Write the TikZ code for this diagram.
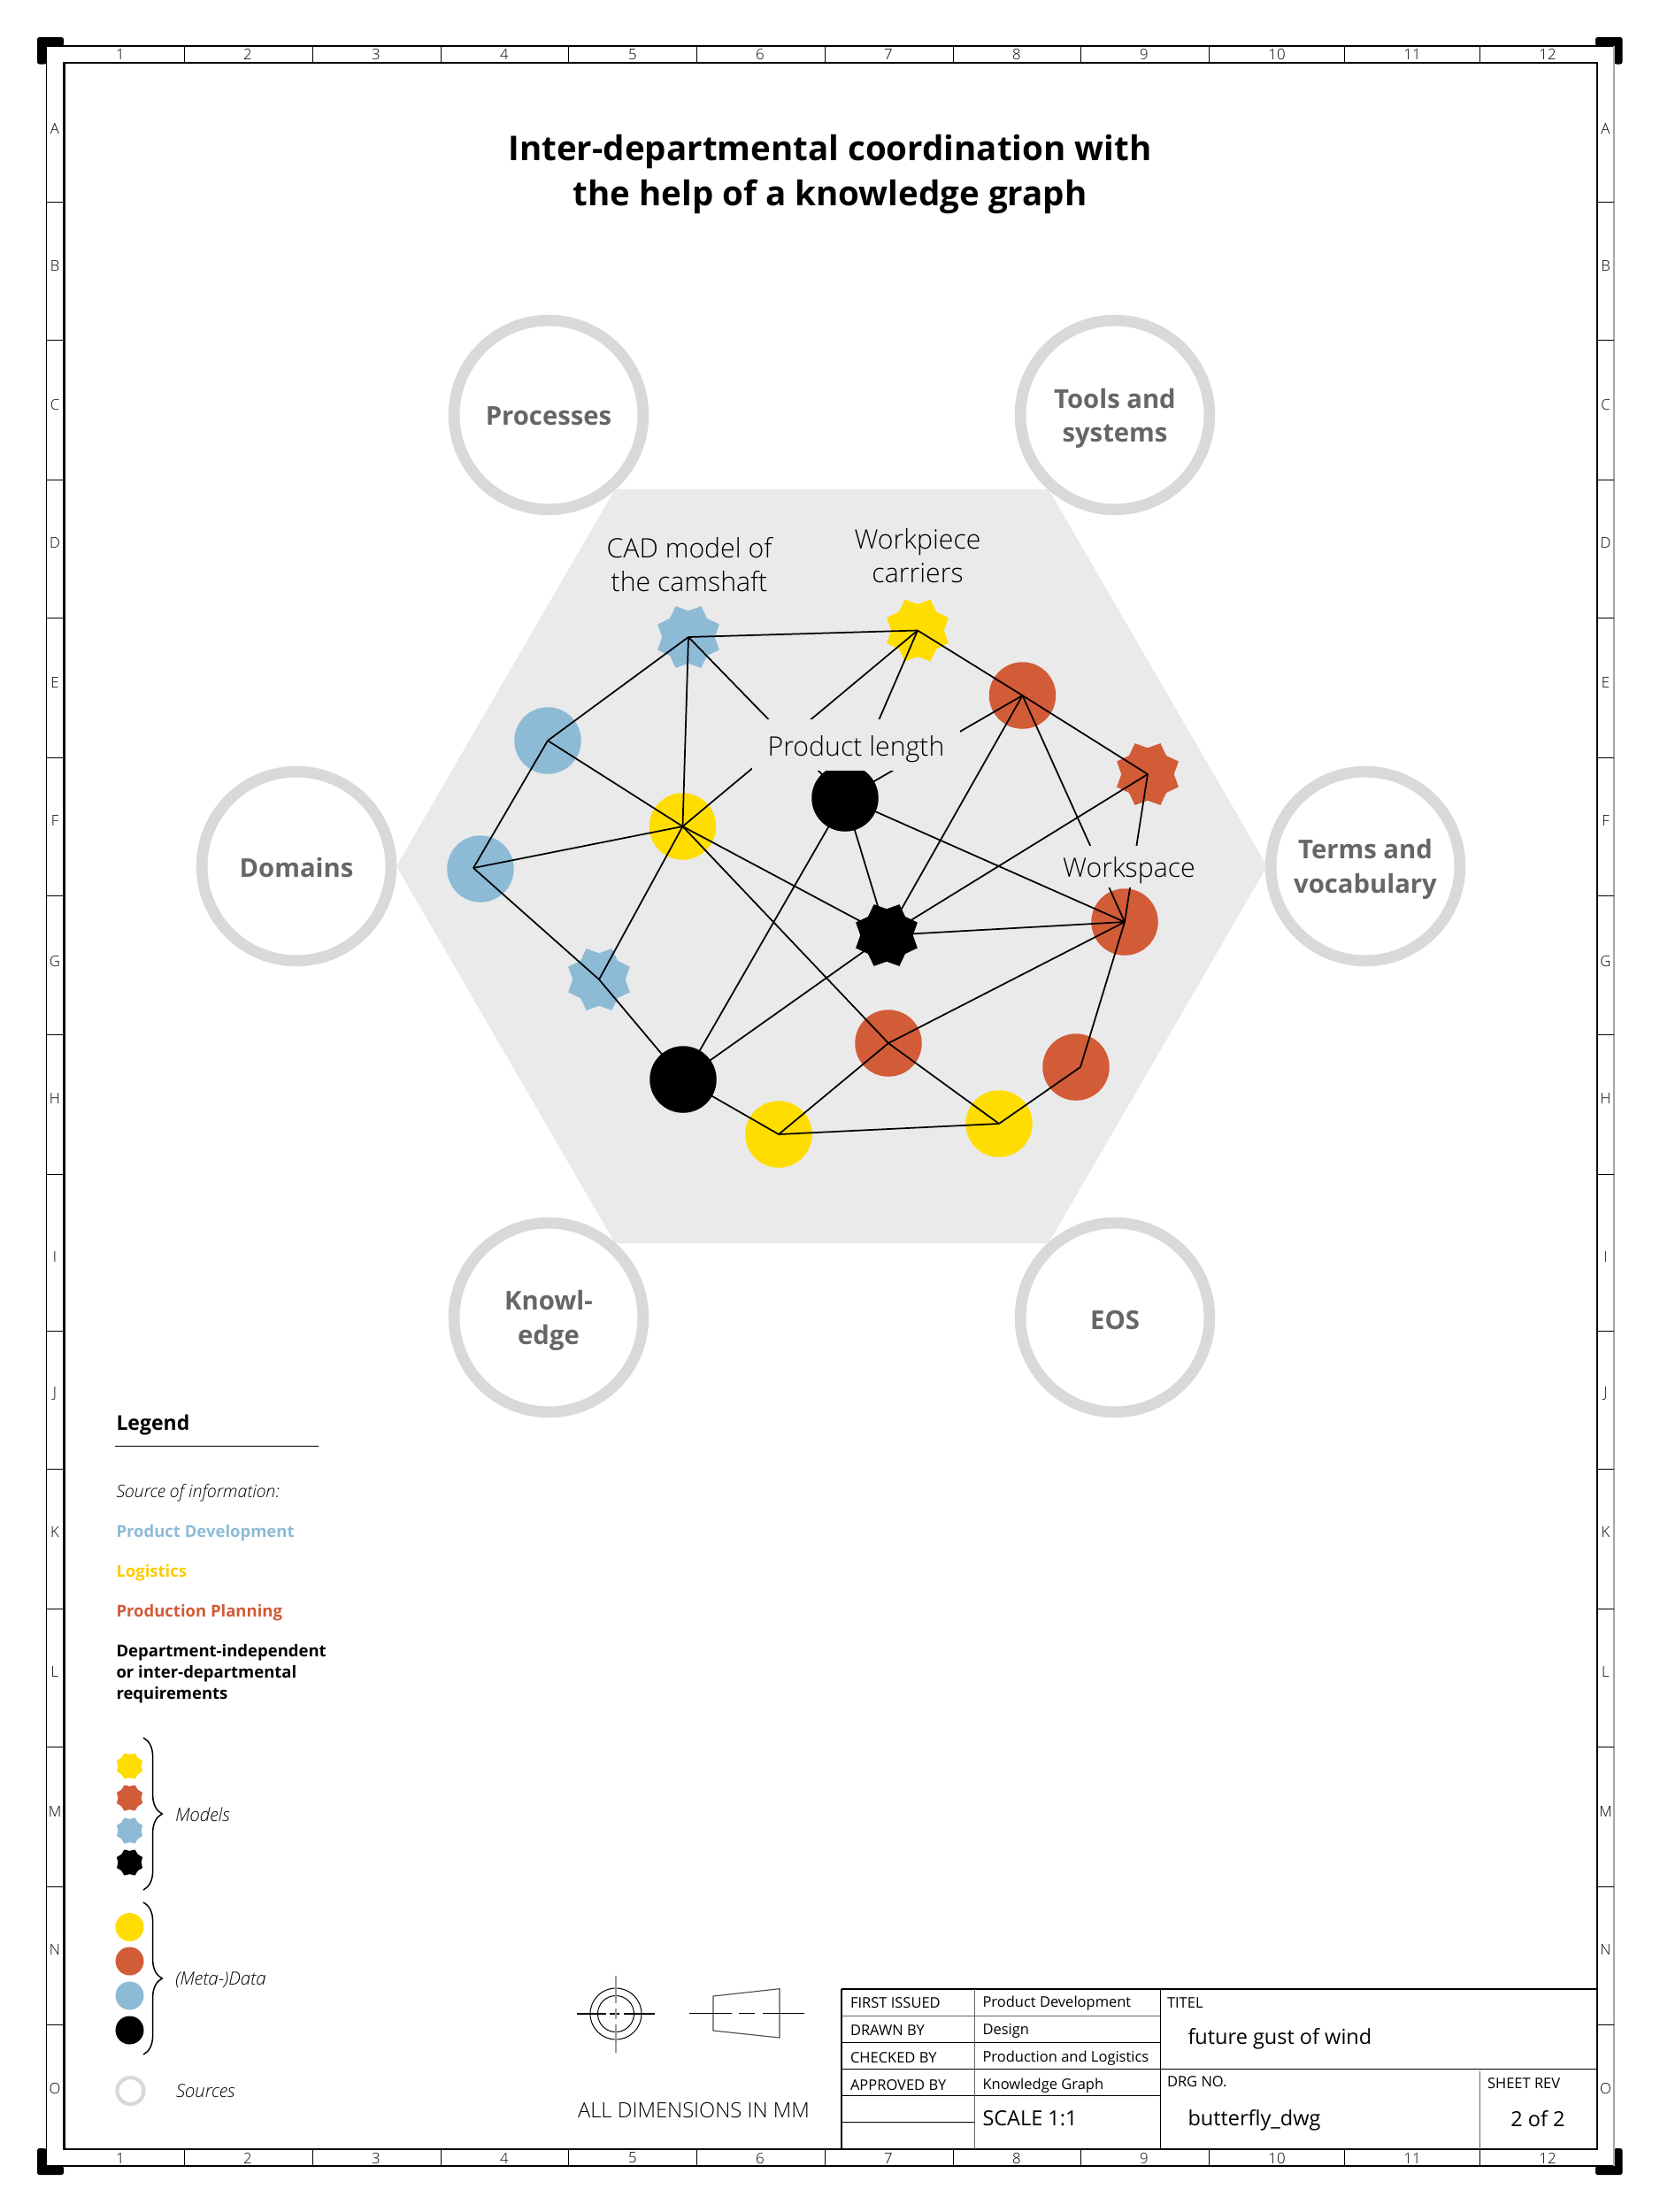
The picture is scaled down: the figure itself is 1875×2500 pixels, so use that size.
\documentclass[tikz,border=0pt]{standalone}
\usepackage{fontspec}
\setmainfont{Open Sans}
\newfontfamily\lightfont{Open Sans Light}
\usetikzlibrary{shapes.geometric, decorations.pathreplacing}

\definecolor{hexgray}{HTML}{EAEAEA}
\definecolor{ringgray}{HTML}{D9D9D9}
\definecolor{ringtext}{HTML}{666666}
\definecolor{pdblue}{HTML}{8DBBD6}
\definecolor{logyellow}{HTML}{FFDD00}
\definecolor{ppred}{HTML}{D25B38}

\begin{document}
\begin{tikzpicture}[
            x=0.4pt, y=-0.4pt,
            ring/.style={circle, draw=ringgray, line width=5.1pt, minimum size=85.5pt, inner sep=0pt},
            ringlabel/.style={inner sep=0pt, align=center, text=ringtext, font=\bfseries\fontsize{11.7}{15.3}\selectfont},
            datadot/.style={circle, minimum size=30.2pt, inner sep=0pt},
            modelstar/.style={star, star points=8, star point ratio=1.27, shape border rotate=22.5, minimum size=30.2pt, inner sep=0pt},
            legenddot/.style={circle, minimum size=12.8pt, inner sep=0pt},
            legendstar/.style={star, star points=8, star point ratio=1.2, shape border rotate=22.5, minimum size=12.6pt, inner sep=0pt},
            edge/.style={line width=0.7pt},
            graphlabel/.style={inner sep=0pt, align=center, font=\lightfont\fontsize{12.1}{15.2}\selectfont},
            legendtext/.style={anchor=west, inner sep=0pt, align=left, font=\bfseries\fontsize{7.4}{9.6}\selectfont},
            legendnote/.style={anchor=west, inner sep=0pt, font=\lightfont\itshape\fontsize{8.2}{9.6}\selectfont},
            blockline/.style={line width=0.4pt},
            blocksmall/.style={anchor=west, inner sep=0pt, font=\fontsize{6.6}{8}\selectfont},
            blockbig/.style={anchor=west, inner sep=0pt, font=\fontsize{9.4}{11}\selectfont},
            strip/.style={inner sep=0pt, font=\lightfont\fontsize{6.7}{8}\selectfont},
            ticktrack/.style={line width=0.35pt},
            brace/.style={line width=0.6pt, decorate, decoration={brace, amplitude=8.5pt}}
            ]
            \useasboundingbox (0,0) rectangle (1875,2500);

            % Sheet frame
            \fill[rounded corners=1pt] (42,72.5) -- (42,42) -- (72,42) -- (72,52) -- (52.5,52) -- (52.5,72.5) -- cycle;
            \fill[rounded corners=1pt] (1803,42) -- (1833.5,42) -- (1833.5,72.5) -- (1824,72.5) -- (1824,52) -- (1803,52) -- cycle;
            \fill[rounded corners=1pt] (42,2428) -- (52.5,2428) -- (52.5,2448) -- (72,2448) -- (72,2458) -- (42,2458) -- cycle;
            \fill[rounded corners=1pt] (1803,2448) -- (1824,2448) -- (1824,2428) -- (1833.5,2428) -- (1833.5,2458) -- (1803,2458) -- cycle;
            \draw[line width=0.45pt] (1824,52) -- (52.5,52) -- (52.5,2448) -- (1824,2448);
            \draw[line width=0.5pt, black!35] (1824,52) -- (1824,2448);
            \foreach \x in {208,353,498,642,787,932,1077,1221,1366,1519,1672} {
                \draw[ticktrack] (\x,52) -- (\x,71);
                \draw[ticktrack] (\x,2429) -- (\x,2448);
            }
            \foreach \y in {228,384,542,698,856,1012,1169,1327,1504,1660,1818,1974,2132,2288} {
                \draw[ticktrack] (52.5,\y) -- (72.5,\y);
                \draw[ticktrack] (1805,\y) -- (1824,\y);
            }
            \foreach \n/\x in {1/136,2/280,3/425,4/570,5/715,6/859,7/1004,8/1149,9/1293,10/1443,11/1596,12/1749} {
                \node[strip] (top\n) at (\x,61.5) {\n};
                \node[strip] (bot\n) at (\x,2439) {\n};
            }
            \foreach \n/\y in {A/145,B/301,C/458,D/614,E/772,F/928,G/1086,H/1242,I/1421,J/1575,K/1731,L/1889,M/2047,N/2203,O/2360} {
                \node[strip] (left\n) at (62,\y) {\n};
                \node[strip] (right\n) at (1814.5,\y) {\n};
            }
            \draw[line width=0.9pt] (72.5,71) rectangle (1805,2429);

            % Title
            \node[align=center, inner sep=0pt, font=\bfseries\fontsize{15.4}{20.4}\selectfont] (title) at (938,197) {Inter-departmental coordination with\\the help of a knowledge graph};

            % Hexagon and sources
            \fill[hexgray] (448,979) -- (695,553) -- (1185,553) -- (1432,979) -- (1185,1405) -- (695,1405) -- cycle;
            \node[ring] (processes) at (620,469) {};
            \node[ring] (tools) at (1260,469) {};
            \node[ring] (domains) at (335,979) {};
            \node[ring] (terms) at (1543,979) {};
            \node[ring] (knowledge) at (620,1489) {};
            \node[ring] (eos) at (1260,1489) {};
            \node[ringlabel] (processestext) at (620,470.5) {Processes};
            \node[ringlabel] (toolstext) at (1260,473) {Tools and\\systems};
            \node[ringlabel] (domainstext) at (335,980.5) {Domains};
            \node[ringlabel] (termstext) at (1543,982.5) {Terms and\\vocabulary};
            \node[ringlabel] (knowledgetext) at (620,1492.5) {Knowl-\\edge};
            \node[ringlabel] (eostext) at (1260,1492) {EOS};

            % Graph shapes
            \node[modelstar, fill=pdblue] (cad) at (778,720) {};
            \node[modelstar, fill=logyellow] (carrier) at (1037,712.5) {};
            \node[datadot, fill=ppred] (redtop) at (1155.5,786) {};
            \node[modelstar, fill=ppred] (redstar) at (1297,875) {};
            \node[datadot, fill=pdblue] (bluetop) at (619,837) {};
            \node[datadot, fill=pdblue] (blueleft) at (543,982) {};
            \node[datadot, fill=logyellow] (yellowmid) at (771.5,934) {};
            \node[datadot, fill=black] (blackup) at (955,902) {};
            \node[modelstar, fill=black] (blackstar) at (1002,1057) {};
            \node[datadot, fill=ppred] (redright) at (1271,1042) {};
            \node[modelstar, fill=pdblue] (bluestar) at (677,1107) {};
            \node[datadot, fill=black] (blackdown) at (772,1220) {};
            \node[datadot, fill=ppred] (redmid) at (1004,1179) {};
            \node[datadot, fill=ppred] (redlow) at (1216,1206) {};
            \node[datadot, fill=logyellow] (yellowlow) at (880,1282) {};
            \node[datadot, fill=logyellow] (yellowright) at (1129,1270) {};
            \coordinate (bluejoin) at (535,981);
            \coordinate (redjoin) at (1221,1206);

            % Graph edges
            \draw[edge] (cad.center) -- (carrier.center);
            \draw[edge] (cad.center) -- (bluetop.center);
            \draw[edge] (cad.center) -- (yellowmid.center);
            \draw[edge] (cad.center) -- (blackup.center);
            \draw[edge] (carrier.center) -- (yellowmid.center);
            \draw[edge] (carrier.center) -- (blackup.center);
            \draw[edge] (carrier.center) -- (redtop.center);
            \draw[edge] (redtop.center) -- (blackup.center);
            \draw[edge] (redtop.center) -- (redstar.center);
            \draw[edge] (redtop.center) -- (blackstar.center);
            \draw[edge] (redtop.center) -- (redright.center);
            \draw[edge] (redstar.center) -- (redright.center);
            \draw[edge] (redstar.center) -- (blackstar.center);
            \draw[edge] (blackup.center) -- (redright.center);
            \draw[edge] (blackup.center) -- (blackstar.center);
            \draw[edge] (blackup.center) -- (blackdown.center);
            \draw[edge] (blackstar.center) -- (redright.center);
            \draw[edge] (blackstar.center) -- (blackdown.center);
            \draw[edge] (yellowmid.center) -- (blackstar.center);
            \draw[edge] (yellowmid.center) -- (bluetop.center);
            \draw[edge] (yellowmid.center) -- (bluejoin);
            \draw[edge] (yellowmid.center) -- (bluestar.center);
            \draw[edge] (yellowmid.center) -- (redmid.center);
            \draw[edge] (bluetop.center) -- (bluejoin);
            \draw[edge] (bluejoin) -- (bluestar.center);
            \draw[edge] (bluestar.center) -- (blackdown.center);
            \draw[edge] (blackdown.center) -- (yellowlow.center);
            \draw[edge] (redmid.center) -- (redright.center);
            \draw[edge] (redmid.center) -- (yellowlow.center);
            \draw[edge] (redmid.center) -- (yellowright.center);
            \draw[edge] (yellowlow.center) -- (yellowright.center);
            \draw[edge] (yellowright.center) -- (redjoin);
            \draw[edge] (redjoin) -- (redright.center);

            % Graph labels
            \node[graphlabel] (cadlabel) at (779,638) {CAD model of\\the camshaft};
            \node[graphlabel] (carrierlabel) at (1037,628) {Workpiece\\carriers};
            \node[graphlabel, fill=hexgray, minimum width=94pt, minimum height=23.2pt] (lengthlabel) at (967.5,842) {\rule{0pt}{12.5pt}Product length};
            \node[graphlabel, fill=hexgray, minimum width=65pt, minimum height=18.8pt] (spacelabel) at (1276,979.5) {\rule{0pt}{12.5pt}Workspace};

            % Legend
            \node[anchor=west, inner sep=0pt, font=\bfseries\fontsize{9.2}{11}\selectfont] (legend) at (131,1610.5) {Legend};
            \coordinate (ruleleft) at (130,1634.5);
            \coordinate (ruleright) at (360,1634.5);
            \draw[line width=0.6pt] (ruleleft) -- (ruleright);
            \node[legendnote, font=\lightfont\itshape\fontsize{7.8}{9.6}\selectfont] (source) at (131,1687.5) {Source of information:};
            \node[legendtext, text=pdblue] (product) at (131,1732.5) {Product Development};
            \node[legendtext, text=logyellow!80!orange] (logistics) at (131,1777.5) {Logistics};
            \node[legendtext, text=ppred] (planning) at (131,1822.5) {Production Planning};
            \node[legendtext, anchor=north west] (department) at (131,1857.5) {Department-independent\\or inter-departmental\\requirements};

            \node[legendstar, fill=logyellow] (starone) at (146.5,1996) {};
            \node[legendstar, fill=ppred] (startwo) at (146.5,2032) {};
            \node[legendstar, fill=pdblue] (starthree) at (146.5,2069) {};
            \node[legendstar, fill=black] (starfour) at (146.5,2105) {};
            \draw[brace] (162,1964) -- (162,2136);
            \node[legendnote] (models) at (197.5,2051) {Models};

            \node[legenddot, fill=logyellow] (dotone) at (146.5,2178) {};
            \node[legenddot, fill=ppred] (dottwo) at (146.5,2216.5) {};
            \node[legenddot, fill=pdblue] (dotthree) at (146.5,2255.5) {};
            \node[legenddot, fill=black] (dotfour) at (146.5,2294.5) {};
            \draw[brace] (162,2150) -- (162,2322);
            \node[legendnote] (metadata) at (197.5,2238) {(Meta-)Data};

            \node[circle, draw=ringgray, line width=1.7pt, minimum size=12pt, inner sep=0pt] (ringkey) at (147.5,2363) {};
            \node[legendnote] (sources) at (198.5,2363) {Sources};

            % Projection symbol
            \draw[line width=0.4pt] (696,2276) circle (29);
            \draw[line width=0.4pt] (696,2276) circle (20.5);
            \draw[line width=0.45pt, dash pattern=on 13pt off 1.6pt on 4.4pt off 2pt on 14pt off 9pt] (652.3,2276) -- (739.7,2276);
            \draw[line width=0.55pt, black!40, dash pattern=on 12.4pt off 2.4pt on 4.8pt off 2.4pt on 13pt off 9pt] (696,2233) -- (696,2320);
            \draw[line width=0.45pt, black!70] (806,2256) -- (881,2247.7) -- (881,2303) -- (806,2295) -- cycle;
            \draw[line width=0.45pt, dash pattern=on 19.2pt off 3.3pt on 7.3pt off 3.4pt on 19pt off 9pt] (778.7,2275.3) -- (909.3,2275.3);
            \node[anchor=west, inner sep=0pt, font=\lightfont\fontsize{9.5}{11}\selectfont] (dimensions) at (652.5,2385) {ALL DIMENSIONS IN MM};

            % Title block
            \draw[line width=0.9pt] (951,2248) -- (1805,2248);
            \draw[line width=0.9pt] (951,2248) -- (951,2429);
            \draw[blockline, black!60] (951,2278.5) -- (1311,2278.5);
            \draw[blockline] (951,2308) -- (1311,2308);
            \draw[blockline] (951,2338) -- (1805,2338);
            \draw[blockline] (951,2368) -- (1311,2368);
            \draw[blockline] (951,2398) -- (1101,2398);
            \draw[blockline, black!60] (1101,2248) -- (1101,2429);
            \draw[blockline] (1311,2248) -- (1311,2429);
            \draw[blockline, black!60] (1672,2341) -- (1672,2429);

            \node[blocksmall] (issued) at (960.5,2264) {FIRST ISSUED};
            \node[blocksmall] (drawn) at (960.5,2295) {DRAWN BY};
            \node[blocksmall] (checked) at (960.5,2326) {CHECKED BY};
            \node[blocksmall] (approved) at (960.5,2357) {APPROVED BY};
            \node[blocksmall] (dept) at (1110,2264) {Product Development};
            \node[blocksmall] (design) at (1110,2295) {Design};
            \node[blocksmall] (prodlog) at (1110,2326) {Production and Logistics};
            \node[blocksmall] (graph) at (1110,2357) {Knowledge Graph};
            \node[blockbig] (scale) at (1110,2394.5) {SCALE 1:1};
            \node[blocksmall] (titel) at (1318.5,2264) {TITEL};
            \node[blockbig] (gust) at (1342,2304.5) {future gust of wind};
            \node[blocksmall] (drg) at (1318.5,2353) {DRG NO.};
            \node[blockbig] (dwg) at (1342,2396) {butterfly\_dwg};
            \node[blocksmall] (sheet) at (1680.5,2355) {SHEET REV};
            \node[blockbig, anchor=center] (rev) at (1738,2395) {2 of 2};

        \end{tikzpicture}
\end{document}
